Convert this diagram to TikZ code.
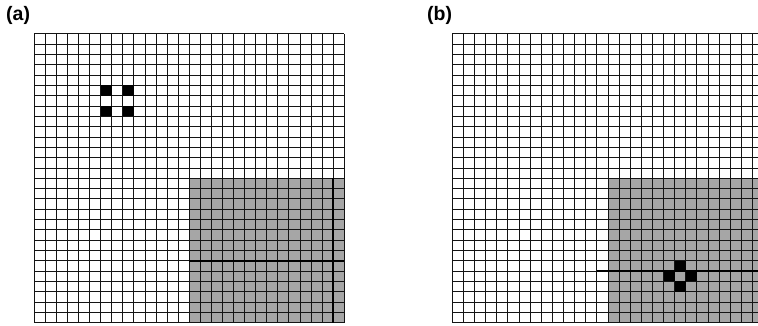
\documentclass[tikz,border=0pt]{standalone}
\usepackage{fontspec}
\setmainfont{Liberation Sans}
\definecolor{cellgray}{RGB}{166,166,166}
\definecolor{linecol}{RGB}{20,20,20}
\tikzset{
  gridline/.style={draw=linecol, line width=0.9pt},
  thickline/.style={draw=black, line width=1.8pt},
  shadebox/.style={fill=cellgray},
  blackcell/.style={fill=black},
  lab/.style={font=\bfseries\fontsize{19.5}{22}\selectfont, inner sep=0pt, anchor=north west}
}
\begin{document}
\begin{tikzpicture}[x=1pt,y=-1pt]
\useasboundingbox (0,0) rectangle (758,325);
\begin{scope}
\clip (0,0) rectangle (758,325);
% ---------- grid (a)
\def\ax{34.3}\def\ay{33.8}\def\aw{11.07}\def\ah{10.32}
\fill[shadebox] (\ax+14*\aw,\ay+14*\ah) rectangle (\ax+28*\aw,\ay+28*\ah);
\foreach \i in {0,...,28} {
  \draw[gridline] (\ax+\i*\aw,\ay) -- (\ax+\i*\aw,\ay+28*\ah);
  \draw[gridline] (\ax,\ay+\i*\ah) -- (\ax+28*\aw,\ay+\i*\ah);
}
\foreach \c/\r in {6/5,8/5,6/7,8/7}
  \fill[blackcell] (\ax+\c*\aw,\ay+\r*\ah) rectangle +(\aw,\ah);
\draw[thickline] (\ax+14*\aw,\ay+22*\ah) -- (\ax+28*\aw,\ay+22*\ah);
\draw[thickline] (\ax+27*\aw,\ay+14*\ah) -- (\ax+27*\aw,\ay+28*\ah);
% ---------- grid (b)
\def\bx{452.3}\def\bw{11.12}
\fill[shadebox] (\bx+14*\bw,\ay+14*\ah) rectangle (\bx+28*\bw,\ay+28*\ah);
\foreach \i in {0,...,28} {
  \draw[gridline] (\bx+\i*\bw,\ay) -- (\bx+\i*\bw,\ay+28*\ah);
  \draw[gridline] (\bx,\ay+\i*\ah) -- (\bx+28*\bw,\ay+\i*\ah);
}
\foreach \c/\r in {20/22,19/23,21/23,20/24}
  \fill[blackcell] (\bx+\c*\bw,\ay+\r*\ah) rectangle +(\bw,\ah);
\draw[thickline] (\bx+13*\bw,\ay+23*\ah) -- (\bx+28*\bw,\ay+23*\ah);
\end{scope}
% ---------- labels
\node[lab] (la) at (6,6) {(a)};
\node[lab] (lb) at (427,6) {(b)};
\end{tikzpicture}
\end{document}
